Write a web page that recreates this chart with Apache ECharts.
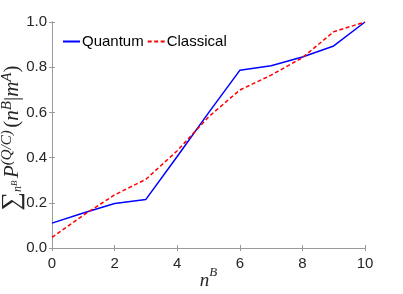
<!DOCTYPE html>
<html>
<head>
<meta charset="utf-8">
<script src="https://cdn.jsdelivr.net/npm/echarts@6/dist/echarts.min.js"></script>
<style>html,body{margin:0;padding:0;background:#fff;}#c{width:403px;height:294px;}</style>
</head>
<body>
<div id="c"></div>
<script>
var nB = [0, 1, 2, 3, 4, 5, 6, 7, 8, 9, 10];
var quantum = [0.11, 0.155, 0.197, 0.215, 0.405, 0.598, 0.786, 0.806, 0.845, 0.894, 1.0];
var classical = [0.047, 0.145, 0.235, 0.304, 0.43, 0.58, 0.699, 0.765, 0.842, 0.957, 1.0];
var xTicks = [0, 2, 4, 6, 8, 10];
var yTicks = [0, 0.2, 0.4, 0.6, 0.8, 1.0];

var chart = echarts.init(document.getElementById('c'), null, {renderer: 'canvas'});
var axisGray = '#9a9a9a';
var labelColor = '#262626';
var sans = '"Liberation Sans",Arial,sans-serif';
var math = '"Liberation Serif","DejaVu Serif",serif';

function pairs(arr) { return nB.map(function (x, i) { return [x, arr[i]]; }); }

var ticksCommon = {
  axisLine: {show: true, lineStyle: {color: axisGray, width: 1}},
  axisTick: {show: true, inside: true, length: 3, lineStyle: {color: axisGray}},
  splitLine: {show: false}
};

chart.setOption({
  animation: false,
  backgroundColor: '#fff',
  grid: {left: 52, right: 38, top: 22, bottom: 46, outerBoundsMode: 'none', containLabel: false},
  legend: {
    left: 62, top: 34, padding: 0, itemWidth: 17, itemHeight: 10, itemGap: 3,
    itemStyle: {opacity: 0},
    textStyle: {fontFamily: sans, fontSize: 15, color: '#000', padding: [0, 0, 0, -3]},
    data: ['Quantum', 'Classical']
  },
  xAxis: [
    Object.assign({
      type: 'value', min: 0, max: 10, interval: 2, position: 'bottom',
      axisLabel: {show: true, fontSize: 15, color: labelColor, margin: 8,
        fontFamily: sans,
        formatter: function (v) { return xTicks.indexOf(v) >= 0 ? String(v) : ''; }},
      name: '{i|n}{sup|B}',
      nameLocation: 'middle', nameGap: 18, nameMoveOverlap: false,
      nameTextStyle: {
        rich: {
          i: {fontFamily: math, fontStyle: 'italic', fontSize: 19, color: labelColor, verticalAlign: 'bottom', lineHeight: 24},
          sup: {fontFamily: math, fontStyle: 'italic', fontSize: 13, color: labelColor, verticalAlign: 'top', lineHeight: 13}
        }
      }
    }, ticksCommon),
    Object.assign({
      type: 'value', min: 0, max: 10, interval: 2, position: 'top',
      axisLabel: {show: false}
    }, ticksCommon)
  ],
  yAxis: [
    Object.assign({
      type: 'value', min: 0, max: 1, interval: 0.2, position: 'left',
      axisLabel: {show: true, fontSize: 15, color: labelColor, margin: 5,
        fontFamily: sans,
        formatter: function (v) { return v.toFixed(1); }},
      name: '{sum|∑}{sub|n}{subsup|B}{sp| }{i|P}{sup|(Q/C)}{sp| }{r|(}{i|n}{sup|B}{r||}{i|m}{sup|A}{last|)}',
      nameLocation: 'middle', nameRotate: 90, nameGap: 28, nameMoveOverlap: false,
      nameTextStyle: {
        rich: {
          sum: {fontFamily: math, fontSize: 26, color: labelColor, verticalAlign: 'middle', lineHeight: 24},
          sub: {fontFamily: math, fontStyle: 'italic', fontSize: 12, color: labelColor, verticalAlign: 'bottom', lineHeight: 12},
          subsup: {fontFamily: math, fontStyle: 'italic', fontSize: 9, color: labelColor, verticalAlign: 'bottom', lineHeight: 9, padding: [0, 0, 5, 0]},
          sp: {fontSize: 9},
          i: {fontFamily: math, fontStyle: 'italic', fontSize: 21, color: labelColor, lineHeight: 24},
          r: {fontFamily: math, fontSize: 21, color: labelColor, lineHeight: 24},
          last: {fontFamily: math, fontSize: 21, color: labelColor, lineHeight: 24, padding: [0, 6, 0, 0]},
          sup: {fontFamily: math, fontStyle: 'italic', fontSize: 15, color: labelColor, verticalAlign: 'top', lineHeight: 15}
        }
      }
    }, ticksCommon),
    Object.assign({
      type: 'value', min: 0, max: 1, interval: 0.2, position: 'right',
      axisLabel: {show: false}
    }, ticksCommon)
  ],
  series: [
    {
      name: 'Quantum', type: 'line', data: pairs(quantum), symbol: 'none',
      lineStyle: {color: '#0000ff', width: 1.5}, itemStyle: {color: '#0000ff'}, z: 3
    },
    {
      name: 'Classical', type: 'line', data: pairs(classical), symbol: 'none',
      lineStyle: {color: '#ff0000', width: 1.5, type: [4, 2.5]}, itemStyle: {color: '#ff0000'}, z: 4
    }
  ]
});
</script>
</body>
</html>
